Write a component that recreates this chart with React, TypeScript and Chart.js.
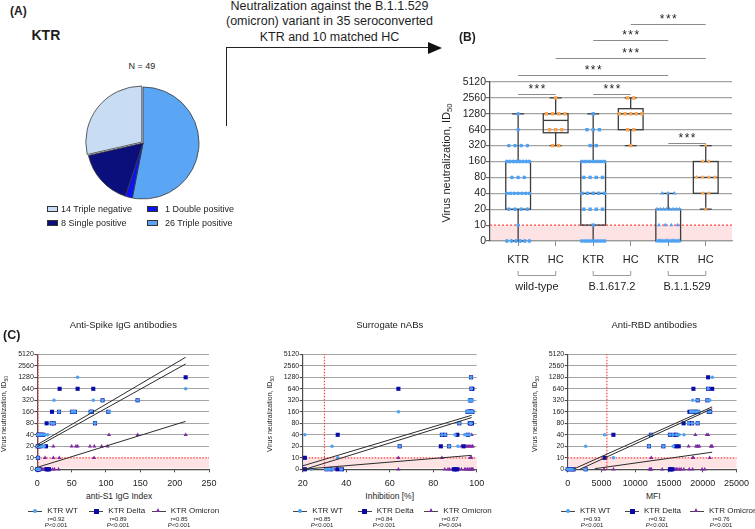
import React, { useEffect, useRef } from "react";
import { Chart, registerables } from "chart.js";

Chart.register(...registerables);

const FONT = "'Liberation Sans', Arial, Helvetica, sans-serif";
Chart.defaults.font.family = FONT;

type Pair = [number, number];

/* ---------------- Panel A ---------------- */
const pieLabels = ["Triple positive", "Double positive", "Single positive", "Triple negative"];
const pieCounts = [26, 1, 8, 14];
const pieColors = ["#5aa5f4", "#0a14f2", "#0a0f7c", "#c8dcf4"];
const pieExplode = [0, 0, 0, 6];
const pieLegendOrder = [3, 1, 2, 0];

/* ---------------- Shared ID50 axis ---------------- */
const id50Levels = [0, 10, 20, 40, 80, 160, 320, 640, 1280, 2560, 5120];
const id50TickLabels = ["0", "10", "20", "40", "80", "160", "320", "640", "1280", "2560", "5120"];

/* ---------------- Panel B ---------------- */
const groupLabels = ["KTR", "HC", "KTR", "HC", "KTR", "HC"];
const variantLabels = ["wild-type", "B.1.617.2", "B.1.1.529"];
// subjects per ID50 level (0,10,20,40,80,160,320,640,1280,2560,5120)
const wtKtrCounts = [6, 1, 4, 7, 3, 8, 4, 1, 1, 0, 0];
const wtHcCounts = [0, 0, 0, 0, 0, 0, 2, 3, 4, 1, 0];
const deltaKtrCounts = [8, 1, 4, 5, 4, 7, 2, 3, 1, 0, 0];
const deltaHcCounts = [0, 0, 0, 0, 0, 0, 1, 2, 5, 2, 0];
const omiKtrCounts = [20, 4, 8, 3, 0, 0, 0, 0, 0, 0, 0];
const omiHcCounts = [0, 0, 1, 2, 4, 2, 1, 0, 0, 0, 0];
const sigPairs = [[0, 1], [2, 3], [4, 5], [0, 4], [1, 5], [2, 4], [3, 5]];
const sigLabel = "***";

/* ---------------- Panel C ---------------- */
const seriesNames = ["KTR WT", "KTR Delta", "KTR Omicron"];

// Anti-Spike IgG (anti-S1 IgG index, ID50)
const s1Wt: Pair[] = [[58.7,1280],[216,640],[24.3,320],[81.5,320],[95,320],[146,320],[31.6,160],[50.5,160],[53,160],[54.8,160],[77.7,160],[79.6,160],[103.4,160],[105,160],[21,80],[24,80],[84,80],[0.5,40],[2,40],[4,40],[6,40],[8,40],[11,40],[15,40],[0.5,20],[3,20],[6,20],[10,20],[1,10],[0,0],[0.5,0],[1,0],[1.5,0],[2,0],[3,0]];
const s1Delta: Pair[] = [[216,1280],[32.5,640],[58.7,640],[81.5,640],[95,320],[146,320],[21.4,160],[31.6,160],[50.5,160],[54.8,160],[77.7,160],[79.6,160],[103.4,160],[13.6,80],[21,80],[24,80],[84,80],[1,40],[3,40],[5,40],[7,40],[9,40],[0.5,20],[2,20],[5,20],[12.6,20],[1,10],[0,0],[0.5,0],[1,0],[2,0],[3,0],[13.6,0],[15,0],[17,0]];
const s1Omi: Pair[] = [[104.4,40],[146.1,40],[216,40],[23.3,20],[50,20],[56.3,20],[58.7,20],[76.7,20],[83,20],[93.7,20],[102.4,20],[11.2,10],[23.3,10],[32,10],[82.5,10],[0,0],[0.5,0],[1,0],[1.5,0],[2,0],[3,0],[3.9,0],[5,0],[6,0],[7.8,0],[9.7,0],[11,0],[12.1,0],[14,0],[16,0],[19,0],[22.3,0],[25,0],[31,0],[0.2,0]];
const s1Fits: Pair[][] = [[[0,22],[216,4280]], [[0,19.6],[216,2860]], [[0,1.7],[216,90]]];
const s1R = ["0.92", "0.89", "0.85"];
const s1P = ["<0.001", "<0.001", "<0.001"];

// Surrogate nABs (inhibition %, ID50)
const snWt: Pair[] = [[97.4,1280],[97.6,640],[96.5,320],[97,320],[97.5,320],[98,320],[64,160],[95.5,160],[96,160],[96.5,160],[97,160],[97.4,160],[97.8,160],[98,160],[92,80],[97,80],[97.5,80],[21,40],[84,40],[85.5,40],[90,40],[94.5,40],[95.7,40],[96.8,40],[33.5,20],[64.6,20],[87.3,20],[91.4,20],[36.1,10],[24,0],[30.7,0],[31.5,0],[32.5,0],[33.8,0],[37.8,0]];
const snDelta: Pair[] = [[97.4,1280],[64,640],[97.6,640],[98,640],[97,320],[97.5,320],[95.8,160],[96.3,160],[96.8,160],[97.2,160],[97.6,160],[98,160],[97.4,160],[92,80],[96.8,80],[97.3,80],[97.8,80],[36.1,40],[84,40],[85.5,40],[91.1,40],[96,40],[64.6,20],[83.5,20],[87.3,20],[94,20],[21,10],[21,0],[31,0],[33,0],[36,0],[38,0],[89.6,0],[90.2,0],[91,0]];
const snOmi: Pair[] = [[95,40],[96.5,40],[97.7,40],[93,20],[94.5,20],[95.5,20],[96,20],[96.5,20],[97.3,20],[97.9,20],[98.2,20],[64,10],[84,10],[97,10],[97.6,10],[21,0],[34.7,0],[36,0],[64,0],[85.3,0],[86.8,0],[87.5,0],[88.7,0],[89.5,0],[91,0],[92,0],[93,0],[94.5,0],[95,0],[95.8,0],[96.5,0],[97,0],[97.6,0],[98,0],[98.3,0]];
const snFits: Pair[][] = [[[20,3],[97.7,130]], [[21,0],[97.7,113]], [[20,0],[97.7,11.6]]];
const snR = ["0.85", "0.84", "0.67"];
const snP = ["<0.001", "<0.001", "=0.004"];

// Anti-RBD (MFI, ID50)
const rbdWt: Pair[] = [[21425,1280],[20800,640],[18520,320],[19250,320],[20700,320],[21040,320],[18200,160],[18400,160],[18700,160],[19000,160],[19300,160],[19500,160],[20900,160],[21100,160],[17900,80],[18425,80],[19250,80],[5465,40],[12330,40],[15140,40],[15600,40],[16100,40],[16500,40],[17215,40],[2660,20],[12040,20],[14170,20],[15620,20],[6770,10],[0,0],[300,0],[600,0],[870,0],[2600,0],[2660,0]];
const rbdDelta: Pair[] = [[20795,1280],[18620,640],[20800,640],[21400,640],[19250,320],[20700,320],[18040,160],[18400,160],[18700,160],[19000,160],[19300,160],[20900,160],[21100,160],[17170,80],[18000,80],[18425,80],[19250,80],[6770,40],[12330,40],[15140,40],[15800,40],[16100,40],[12040,20],[14170,20],[16000,20],[16440,20],[5465,10],[0,0],[300,0],[700,0],[870,0],[2660,0],[15140,0],[15300,0],[15500,0]];
const rbdOmi: Pair[] = [[18900,40],[20600,40],[20800,40],[17900,20],[19000,20],[19200,20],[19300,20],[19500,20],[21200,20],[21300,20],[21400,20],[12380,10],[18520,10],[18600,10],[21040,10],[5400,0],[6770,0],[12100,0],[12300,0],[12400,0],[14000,0],[15100,0],[15300,0],[15500,0],[15700,0],[15900,0],[16100,0],[16300,0],[16600,0],[16800,0],[17200,0],[18000,0],[18500,0],[19900,0],[20300,0]];
const rbdFits: Pair[][] = [[[800,0],[21400,216]], [[1800,0],[21400,193]], [[4000,0.5],[21400,14]]];
const rbdR = ["0.93", "0.92", "0.76"];
const rbdP = ["<0.001", "<0.001", "<0.001"];

/* ---------------- styles ---------------- */
const WT_C = "#4ea2f4";
const DELTA_C = "#0a0aa8";
const OMI_C = "#7c2aa2";
const HC_C = "#f6a24e";
const BAND = "#fde3e3";
const RED = "#ff4040";
const GRID = "#a4a4a4";
const AXIS = "#4a4a4a";
const TXT = "#1e1e1e";

function toIdx(v: number): number {
  if (v <= 0) return 0;
  if (v <= 10) return v / 10;
  return Math.log2(v / 10) + 1;
}
const idxTicks = (s: any) => {
  s.ticks = id50Levels.map((lv) => ({ value: toIdx(lv) }));
};

function quartiles(counts: number[]) {
  const vals: number[] = [];
  counts.forEach((n, i) => {
    for (let k = 0; k < n; k++) vals.push(id50Levels[i]);
  });
  const q = (p: number) => {
    const pos = (vals.length + 1) * p;
    if (pos <= 1) return vals[0];
    if (pos >= vals.length) return vals[vals.length - 1];
    const lo = Math.floor(pos);
    return vals[lo - 1] + (pos - lo) * (vals[lo] - vals[lo - 1]);
  };
  return [vals[0], q(0.25), q(0.5), q(0.75), vals[vals.length - 1]];
}

function swarm(counts: number[], g: number) {
  const pts: { x: number; y: number }[] = [];
  counts.forEach((n, i) => {
    const step = n > 1 ? Math.min(0.165, 0.6 / (n - 1)) : 0;
    for (let k = 0; k < n; k++) pts.push({ x: g + (k - (n - 1) / 2) * step, y: toIdx(id50Levels[i]) });
  });
  return pts;
}

const bGroups = [
  { counts: wtKtrCounts, color: WT_C, shape: "circle", r: 1.9 },
  { counts: wtHcCounts, color: HC_C, shape: "rect", r: 2.4 },
  { counts: deltaKtrCounts, color: WT_C, shape: "rect", r: 2.4 },
  { counts: deltaHcCounts, color: HC_C, shape: "rect", r: 2.4 },
  { counts: omiKtrCounts, color: WT_C, shape: "triangle", r: 2.4 },
  { counts: omiHcCounts, color: HC_C, shape: "triangle", r: 2.4 },
];
const sigHeights = [9.26, 9.26, 6.19, 10.42, 11.52, 12.63, 13.62];

const bPlugin = {
  id: "bExtras",
  beforeDatasetsDraw(chart: any) {
    const { ctx, chartArea: a, scales } = chart;
    const x = scales.x, y = scales.y;
    ctx.save();
    const y0 = y.getPixelForValue(0), y10 = y.getPixelForValue(1);
    ctx.fillStyle = BAND;
    ctx.fillRect(a.left + 1, y10, a.right - a.left - 1, y0 - y10 - 1);
    ctx.strokeStyle = RED;
    ctx.lineWidth = 1.2;
    ctx.setLineDash([2, 2]);
    ctx.beginPath();
    ctx.moveTo(a.left, y10);
    ctx.lineTo(a.right, y10);
    ctx.stroke();
    ctx.setLineDash([]);
    bGroups.forEach((gr, g) => {
      const st = quartiles(gr.counts).map((v) => y.getPixelForValue(toIdx(v)));
      const cx = x.getPixelForValue(g);
      const hw = x.getPixelForValue(g + 0.33) - cx;
      ctx.strokeStyle = "#3c3c3c";
      ctx.lineWidth = 1.3;
      ctx.beginPath();
      ctx.moveTo(cx, st[1]); ctx.lineTo(cx, st[0]);
      ctx.moveTo(cx, st[3]); ctx.lineTo(cx, st[4]);
      ctx.moveTo(cx - 6, st[0]); ctx.lineTo(cx + 6, st[0]);
      ctx.moveTo(cx - 6, st[4]); ctx.lineTo(cx + 6, st[4]);
      ctx.stroke();
      if (st[1] - st[3] > 0.5) ctx.strokeRect(cx - hw, st[3], 2 * hw, st[1] - st[3]);
      ctx.beginPath();
      ctx.moveTo(cx - hw, st[2]); ctx.lineTo(cx + hw, st[2]);
      ctx.stroke();
    });
    ctx.restore();
  },
  afterDraw(chart: any) {
    const { ctx, chartArea: a, scales } = chart;
    const x = scales.x, y = scales.y;
    ctx.save();
    ctx.strokeStyle = "#8c8c8c";
    ctx.lineWidth = 1;
    ctx.fillStyle = TXT;
    ctx.font = `12px ${FONT}`;
    ctx.textAlign = "center";
    ctx.textBaseline = "alphabetic";
    if ("letterSpacing" in ctx) (ctx as any).letterSpacing = "1.5px";
    sigPairs.forEach(([p, q], k) => {
      const x1 = x.getPixelForValue(p), x2 = x.getPixelForValue(q);
      const yy = Math.round(y.getPixelForValue(sigHeights[k])) + 0.5;
      ctx.beginPath();
      ctx.moveTo(x1, yy); ctx.lineTo(x2, yy);
      ctx.stroke();
      ctx.fillText(sigLabel, (x1 + x2) / 2 + 0.75, yy - 2);
    });
    if ("letterSpacing" in ctx) (ctx as any).letterSpacing = "0px";
    ctx.strokeStyle = "#9a9a9a";
    ctx.font = `11px ${FONT}`;
    variantLabels.forEach((lab, v) => {
      const x1 = x.getPixelForValue(2 * v), x2 = x.getPixelForValue(2 * v + 1);
      const yt = a.bottom + 30, yb = a.bottom + 34.5;
      ctx.beginPath();
      ctx.moveTo(x1, yt); ctx.lineTo(x1, yb); ctx.lineTo(x2, yb); ctx.lineTo(x2, yt);
      ctx.stroke();
      ctx.fillText(lab, (x1 + x2) / 2, a.bottom + 45.3 + 0.358 * 11);
    });
    ctx.restore();
  },
};

function bConfig(): any {
  return {
    type: "scatter",
    data: {
      datasets: bGroups.map((gr, g) => ({
        data: swarm(gr.counts, g),
        pointStyle: gr.shape,
        pointRadius: gr.r,
        backgroundColor: gr.color,
        borderWidth: 0,
        clip: false,
      })),
    },
    options: {
      animation: false,
      responsive: false,
      events: [],
      layout: { padding: { top: 82, right: 23, left: 0, bottom: 0 } },
      plugins: { legend: { display: false }, tooltip: { enabled: false } },
      scales: {
        x: {
          type: "linear",
          min: -0.75,
          max: 5.7,
          afterBuildTicks: (s: any) => {
            s.ticks = groupLabels.map((_, i) => ({ value: i }));
          },
          afterFit: (s: any) => { s.height = 59; },
          ticks: {
            callback: (v: any) => groupLabels[v] ?? "",
            font: { family: FONT, size: 11 },
            color: TXT,
            padding: 7.5,
            maxRotation: 0,
            autoSkip: false,
          },
          grid: { drawOnChartArea: false, tickLength: 5, color: "#8a8a8a", lineWidth: 1 },
          border: { color: "#9a9a9a", width: 1.2 },
        },
        y: {
          type: "linear",
          min: 0,
          max: 10,
          afterBuildTicks: idxTicks,
          afterFit: (s: any) => { s.width = 50; },
          ticks: {
            callback: (v: any) => id50TickLabels[v] ?? "",
            font: { family: FONT, size: 10.5 },
            color: TXT,
            padding: 0,
          },
          grid: {
            color: (c: any) => (c.tick && c.tick.value === 1 ? "rgba(0,0,0,0)" : GRID),
            tickColor: "#666",
            lineWidth: 1.2,
            tickLength: 4,
          },
          border: { color: AXIS, width: 1.3 },
        },
      },
    },
    plugins: [bPlugin],
  };
}

const cStyles = [
  { color: WT_C, shape: "circle", r: 1.8 },
  { color: DELTA_C, shape: "rect", r: 2.9 },
  { color: OMI_C, shape: "triangle", r: 2.4 },
];

function cPlugin(cutoff: number) {
  return {
    id: "cExtras",
    beforeDatasetsDraw(chart: any) {
      const { ctx, chartArea: a, scales } = chart;
      const x = scales.x, y = scales.y;
      ctx.save();
      const y0 = y.getPixelForValue(0), y10 = y.getPixelForValue(1);
      ctx.fillStyle = BAND;
      ctx.fillRect(a.left + 1, y10, a.right - a.left - 1, y0 - y10 - 1);
      ctx.strokeStyle = RED;
      ctx.lineWidth = 1.2;
      ctx.setLineDash([1.5, 1.5]);
      ctx.beginPath();
      ctx.moveTo(a.left, y10); ctx.lineTo(a.right, y10);
      const xc = x.getPixelForValue(cutoff);
      ctx.moveTo(xc, y0); ctx.lineTo(xc, a.top);
      ctx.stroke();
      ctx.restore();
    },
  };
}

function cConfig(series: Pair[][], fits: Pair[][], xMin: number, xMax: number, xStep: number, cutoff: number, yW: number, padR: number): any {
  const toPt = (p: Pair) => ({ x: p[0], y: toIdx(p[1]) });
  return {
    type: "scatter",
    data: {
      datasets: [
        ...fits.map((f) => ({
          data: f.map(toPt),
          showLine: true,
          borderColor: "#2b2b2b",
          borderWidth: 1,
          pointRadius: 0,
          order: 0,
          clip: false,
        })),
        ...series.map((s, k) => ({
          data: s.map(toPt),
          pointStyle: cStyles[k].shape,
          pointRadius: cStyles[k].r,
          backgroundColor: cStyles[k].color,
          borderWidth: 0,
          order: k + 1,
          clip: false,
        })),
      ],
    },
    options: {
      animation: false,
      responsive: false,
      events: [],
      layout: { padding: { top: 14.3, right: padR, left: 0, bottom: 0 } },
      plugins: { legend: { display: false }, tooltip: { enabled: false } },
      scales: {
        x: {
          type: "linear",
          min: xMin,
          max: xMax,
          afterFit: (s: any) => { s.height = 20.7; },
          ticks: {
            stepSize: xStep,
            callback: (v: any) => String(v),
            font: { family: FONT, size: 9 },
            color: TXT,
            padding: 6,
            maxRotation: 0,
          },
          grid: { drawOnChartArea: false, tickLength: 3, color: AXIS, lineWidth: 1 },
          border: { color: AXIS, width: 1.2 },
        },
        y: {
          type: "linear",
          min: 0,
          max: 10,
          afterBuildTicks: idxTicks,
          afterFit: (s: any) => { s.width = yW; },
          ticks: {
            callback: (v: any) => id50TickLabels[v] ?? "",
            font: { family: FONT, size: 7 },
            color: TXT,
            padding: 0.5,
          },
          grid: {
            color: (c: any) => (c.tick && c.tick.value === 1 ? "rgba(0,0,0,0)" : GRID),
            tickColor: AXIS,
            lineWidth: 1.1,
            tickLength: 3,
          },
          border: { color: AXIS, width: 1.2 },
        },
      },
    },
    plugins: [cPlugin(cutoff)],
  };
}

function pieConfig(): any {
  return {
    type: "pie",
    data: {
      labels: pieLabels,
      datasets: [
        {
          data: pieCounts,
          backgroundColor: pieColors,
          borderColor: "#3a3a3a",
          borderWidth: 0.8,
          offset: pieExplode,
        },
      ],
    },
    options: {
      animation: false,
      responsive: false,
      events: [],
      radius: 56,
      layout: { padding: 0 },
      plugins: { legend: { display: false }, tooltip: { enabled: false } },
    },
  };
}

/* ---------------- components ---------------- */
function ChartBox({ left, top, width, height, make }: { left: number; top: number; width: number; height: number; make: () => any }) {
  const ref = useRef<HTMLCanvasElement>(null);
  useEffect(() => {
    const chart = new Chart(ref.current as HTMLCanvasElement, make());
    return () => chart.destroy();
  }, []);
  return <canvas ref={ref} width={width} height={height} style={{ position: "absolute", left, top, width, height }} />;
}

function Txt({ x, y, size = 10, bold = false, anchor = "middle", rotate = false, children }: any) {
  const tx = anchor === "middle" ? "-50%" : anchor === "end" ? "-100%" : "0";
  return (
    <div
      style={{
        position: "absolute",
        left: x,
        top: y,
        transform: `translate(${tx}, -50%)${rotate ? " rotate(-90deg)" : ""}`,
        fontSize: size,
        fontWeight: bold ? 700 : 400,
        lineHeight: 1,
        whiteSpace: "nowrap",
        color: TXT,
      }}
    >
      {children}
    </div>
  );
}

function YTitle({ x, y, size }: { x: number; y: number; size: number }) {
  return (
    <Txt x={x} y={y} size={size} rotate>
      Virus neutralization, ID<span style={{ fontSize: "0.7em", verticalAlign: "-0.3em" }}>50</span>
    </Txt>
  );
}

function Marker({ cx, cy, k }: { cx: number; cy: number; k: number }) {
  const c = cStyles[k].color;
  if (k === 0) return <div style={{ position: "absolute", left: cx - 2, top: cy - 2, width: 4, height: 4, borderRadius: "50%", background: c }} />;
  if (k === 1) return <div style={{ position: "absolute", left: cx - 2.5, top: cy - 2.5, width: 5, height: 5, background: c }} />;
  return (
    <div
      style={{
        position: "absolute",
        left: cx - 2.6,
        top: cy - 2.8,
        width: 0,
        height: 0,
        borderLeft: "2.6px solid transparent",
        borderRight: "2.6px solid transparent",
        borderBottom: `4.8px solid ${c}`,
      }}
    />
  );
}

function CLegend({ starts, rCenters, rs, ps }: { starts: number[]; rCenters: number[]; rs: string[]; ps: string[] }) {
  const y = 511;
  return (
    <>
      {seriesNames.map((name, k) => (
        <React.Fragment key={k}>
          <div style={{ position: "absolute", left: starts[k], top: y - 0.5, width: 14, height: 1, background: "#444" }} />
          <Marker cx={starts[k] + 7} cy={y} k={k} />
          <Txt x={starts[k] + 19} y={y} size={8} anchor="start">{name}</Txt>
          <Txt x={rCenters[k]} y={518.7} size={6}>{`r=${rs[k]}`}</Txt>
          <Txt x={rCenters[k]} y={525} size={6}>
            <i>P</i>
            {ps[k]}
          </Txt>
        </React.Fragment>
      ))}
    </>
  );
}

export default function App() {
  const total = pieCounts.reduce((a, b) => a + b, 0);
  const legendPos = [
    [47, 209, 61],
    [147, 209, 165],
    [47, 223, 61],
    [147, 223, 165],
  ];
  return (
    <div
      style={{
        position: "absolute",
        left: 0,
        top: 0,
        width: 755,
        height: 529,
        background: "#fff",
        overflow: "hidden",
        fontFamily: FONT,
      }}
    >
      {/* Panel A */}
      <ChartBox left={73} top={73} width={140} height={140} make={pieConfig} />
      <Txt x={10} y={11} size={12} bold anchor="start">(A)</Txt>
      <Txt x={31.5} y={35} size={14} bold anchor="start">KTR</Txt>
      <Txt x={142} y={66} size={9}>{`N = ${total}`}</Txt>
      {pieLegendOrder.map((si, j) => (
        <React.Fragment key={si}>
          <div
            style={{
              position: "absolute",
              left: legendPos[j][0],
              top: legendPos[j][1] - 3,
              width: 11,
              height: 6,
              background: pieColors[si],
              border: "0.8px solid #333",
              boxSizing: "border-box",
            }}
          />
          <Txt x={legendPos[j][2]} y={legendPos[j][1]} size={9} anchor="start">{`${pieCounts[si]} ${pieLabels[si]}`}</Txt>
        </React.Fragment>
      ))}

      {/* Arrow with text */}
      <Txt x={329.5} y={5.9} size={12.5}>Neutralization against the B.1.1.529</Txt>
      <Txt x={329.5} y={21.2} size={12.5}>(omicron) variant in 35 seroconverted</Txt>
      <Txt x={329.5} y={36.5} size={12.5}>KTR and 10 matched HC</Txt>
      <div style={{ position: "absolute", left: 225.5, top: 47, width: 1.2, height: 79, background: "#222" }} />
      <div style={{ position: "absolute", left: 225.5, top: 47, width: 204, height: 1.2, background: "#222" }} />
      <div
        style={{
          position: "absolute",
          left: 428,
          top: 41.7,
          width: 0,
          height: 0,
          borderTop: "6px solid transparent",
          borderBottom: "6px solid transparent",
          borderLeft: "14px solid #111",
        }}
      />

      {/* Panel B */}
      <ChartBox left={440} top={0} width={315} height={300} make={bConfig} />
      <Txt x={459} y={37} size={12} bold anchor="start">(B)</Txt>
      <YTitle x={447} y={163} size={11} />

      {/* Panel C */}
      <ChartBox left={0} top={340} width={250} height={150} make={() => cConfig([s1Wt, s1Delta, s1Omi], s1Fits, 0, 250, 50, 1.1, 37.3, 41)} />
      <ChartBox left={250} top={340} width={250} height={150} make={() => cConfig([snWt, snDelta, snOmi], snFits, 20, 100, 20, 30, 52.7, 23.3)} />
      <ChartBox left={500} top={340} width={255} height={150} make={() => cConfig([rbdWt, rbdDelta, rbdOmi], rbdFits, 0, 25000, 5000, 5800, 67.7, 15)} />
      <Txt x={3} y={335} size={12.5} bold anchor="start">(C)</Txt>
      <Txt x={123.3} y={325} size={9.5}>Anti-Spike IgG antibodies</Txt>
      <Txt x={389.7} y={325} size={9.5}>Surrogate nABs</Txt>
      <Txt x={654.2} y={325} size={9.5}>Anti-RBD antibodies</Txt>
      <Txt x={119.2} y={495.7} size={8.5}>anti-S1 IgG Index</Txt>
      <Txt x={389.7} y={495.7} size={8.5}>Inhibition [%]</Txt>
      <Txt x={653.3} y={495.7} size={8.5}>MFI</Txt>
      <YTitle x={4.5} y={414} size={7} />
      <YTitle x={270.8} y={414} size={7} />
      <YTitle x={535.5} y={414} size={7} />
      <CLegend starts={[28.3, 89.3, 151.7]} rCenters={[56, 118, 179]} rs={s1R} ps={s1P} />
      <CLegend starts={[293.3, 357.7, 424.3]} rCenters={[322, 384, 450]} rs={snR} ps={snP} />
      <CLegend starts={[561, 625, 690]} rCenters={[592, 657, 721]} rs={rbdR} ps={rbdP} />
    </div>
  );
}
